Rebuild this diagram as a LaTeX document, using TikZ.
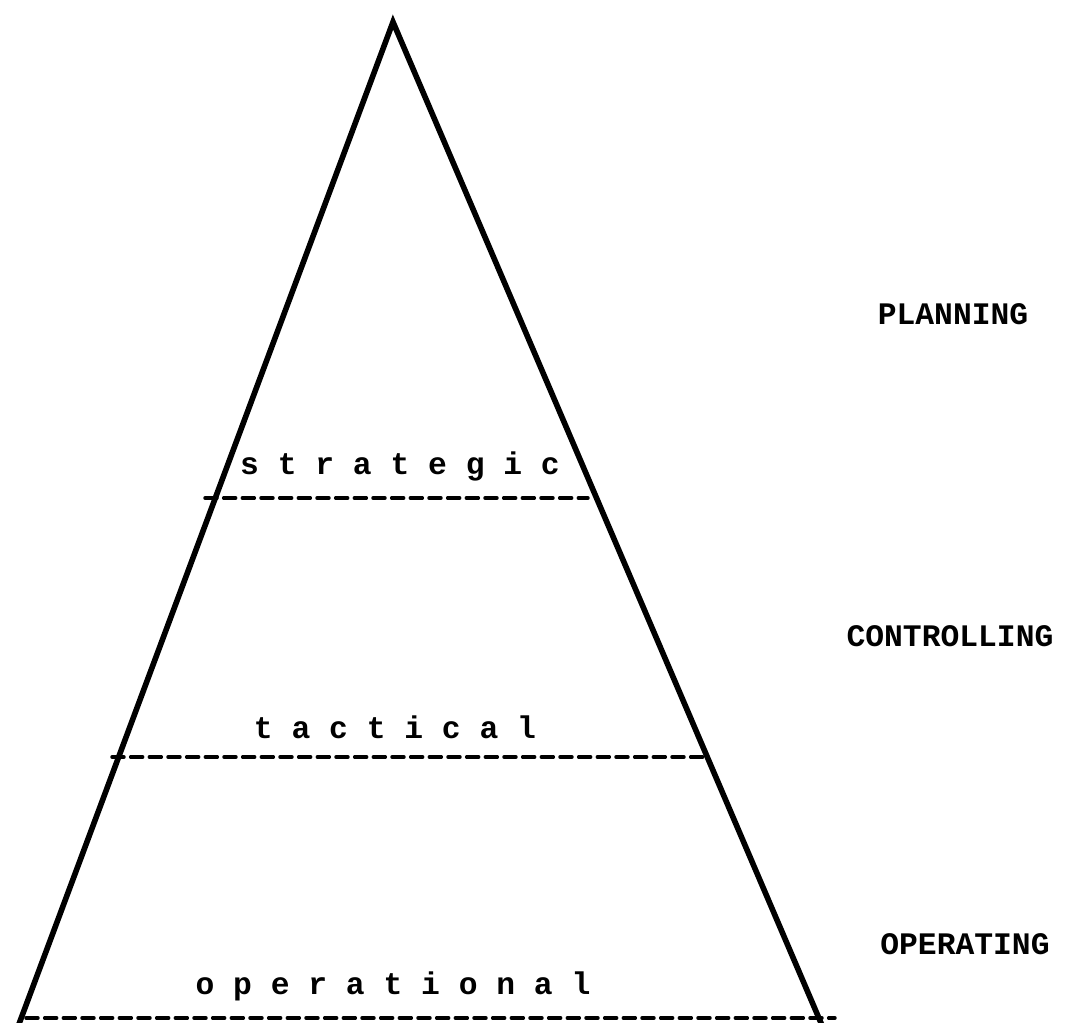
\documentclass[tikz,border=0pt]{standalone}
\usepackage{fontspec}
\newfontfamily\labfont{Liberation Mono}
\begin{document}
\begin{tikzpicture}[x=0.75pt,y=-0.75pt,
  side/.style={line width=4.2pt,line cap=round},
  level/.style={line width=2.6pt,dash pattern=on 9pt off 5pt,line cap=round},
  lab/.style={font=\labfont\bfseries\fontsize{23.5}{25}\selectfont,inner sep=0pt,anchor=center}]
\useasboundingbox (0,0) rectangle (1074,1022);
\coordinate (apex) at (393,22);
\coordinate (bl) at (16,1032);
\coordinate (br) at (824,1030);
\draw[side] (bl) -- (apex) -- (br);
\coordinate (s1) at (205,498);
\coordinate (s2) at (588,498);
\coordinate (t1) at (112,757);
\coordinate (t2) at (708,757);
\coordinate (o1) at (26,1018);
\coordinate (o2) at (835,1018);
\draw[level] (s1) -- (s2);
\draw[level] (t1) -- (t2);
\draw[level] (o1) -- (o2);
\node[lab] (strat) at (400,466) {s t r a t e g i c};
\node[lab] (tact) at (395,727) {t a c t i c a l};
\node[lab] (oper) at (393,986) {o p e r a t i o n a l};
\node[lab] (plan) at (953,314) {PLANNING};
\node[lab] (ctrl) at (950,636) {CONTROLLING};
\node[lab] (opg) at (965,944) {OPERATING};
\end{tikzpicture}
\end{document}
